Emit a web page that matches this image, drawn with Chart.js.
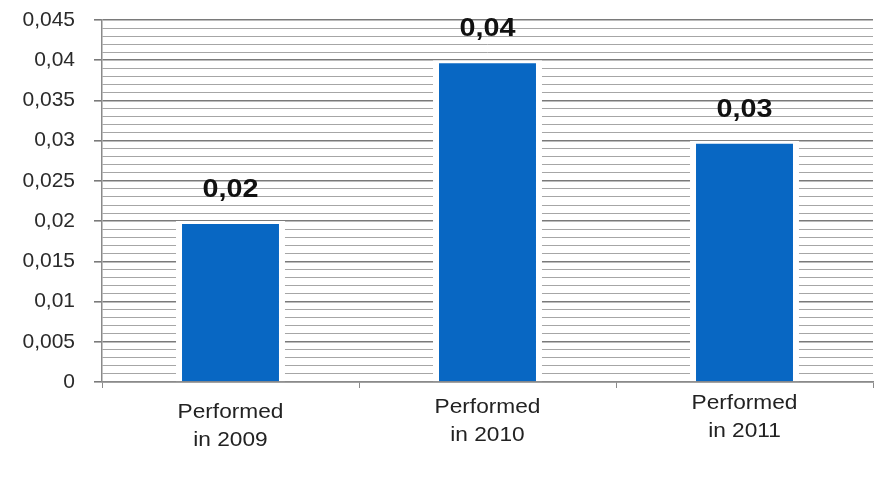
<!DOCTYPE html>
<html>
<head>
<meta charset="utf-8">
<script src="https://cdn.jsdelivr.net/npm/chart.js@4/dist/chart.umd.min.js"></script>
<style>
  body { margin: 0; background: #fff; }
  #wrap { width: 877px; height: 504px; }
</style>
</head>
<body>
<div id="wrap"><canvas id="chart" width="877" height="504"></canvas></div>
<script>
// data
const categories = [['Performed', 'in 2009'], ['Performed', 'in 2010'], ['Performed', 'in 2011']];
const values = [0.02, 0.04, 0.03];
const yMax = 0.045;
const yStep = 0.001;

// vertical nudge of each category label (px)
const labelShift = [0, -5, -9];

const fmt = v => String(+v.toFixed(3)).replace('.', ',');
const isMajor = v => Math.round(v * 1000) % 5 === 0;

// category labels and value labels drawn on top of the bars
const textPlugin = {
    id: 'texts',
    afterDraw(chart) {
        const ctx = chart.ctx;
        const xs = chart.scales.x;
        const bottom = chart.chartArea.bottom;
        ctx.save();
        ctx.textAlign = 'center';
        ctx.textBaseline = 'middle';

        ctx.fillStyle = '#222';
        ctx.font = '21px "Liberation Sans", Arial, sans-serif';
        categories.forEach((lines, i) => {
            const x = xs.getPixelForValue(i);
            lines.forEach((t, k) => {
                const y = bottom + 30 + k * 28 + labelShift[i];
                ctx.save();
                ctx.translate(x, y);
                ctx.scale(1.08, 1);
                ctx.fillText(t, 0, 0);
                ctx.restore();
            });
        });

        ctx.fillStyle = '#111';
        ctx.font = 'bold 25px "Liberation Sans", Arial, sans-serif';
        chart.getDatasetMeta(0).data.forEach((bar, i) => {
            ctx.save();
            ctx.translate(bar.x, bar.y - 31);
            ctx.scale(1.15, 1);
            ctx.fillText(fmt(values[i]), 0, 0);
            ctx.restore();
        });
        ctx.restore();
    }
};

new Chart(document.getElementById('chart'), {
    type: 'bar',
    data: {
        labels: categories.map(c => c.join(' ')),
        datasets: [{
            data: values,
            backgroundColor: '#0867c3',
            borderColor: '#ffffff',
            borderWidth: { left: 6, right: 6, top: 3, bottom: 0 },
            borderSkipped: false,
            categoryPercentage: 1,
            barPercentage: 0.424
        }]
    },
    options: {
        responsive: false,
        animation: false,
        layout: { padding: { top: 20, right: 4, left: 0, bottom: 0 } },
        plugins: {
            legend: { display: false },
            tooltip: { enabled: false }
        },
        scales: {
            x: {
                offset: true,
                afterFit: s => { s.height = 122; },
                grid: {
                    offset: true,
                    drawOnChartArea: false,
                    tickLength: 6,
                    color: '#8a8a8a'
                },
                border: { color: '#8a8a8a', width: 1.5 },
                ticks: { display: false }
            },
            y: {
                min: 0,
                max: yMax,
                afterFit: s => {
                    s.width = 102;
                    s.paddingTop = 0;
                    s.paddingBottom = 0;
                },
                grid: {
                    tickLength: 8,
                    color: c => isMajor(c.tick.value) ? '#7a7a7a' : '#a6a6a6',
                    lineWidth: c => isMajor(c.tick.value) ? 1.6 : 1,
                    tickColor: c => isMajor(c.tick.value) ? '#7a7a7a' : 'rgba(0,0,0,0)'
                },
                border: { color: '#8a8a8a', width: 1.5 },
                ticks: {
                    stepSize: yStep,
                    maxTicksLimit: 100,
                    autoSkip: false,
                    padding: 19,
                    color: '#2a2a2a',
                    font: { size: 21, family: '"Liberation Sans", Arial, sans-serif' },
                    callback: v => isMajor(v) ? fmt(v) : ''
                }
            }
        }
    },
    plugins: [textPlugin]
});
</script>
</body>
</html>
